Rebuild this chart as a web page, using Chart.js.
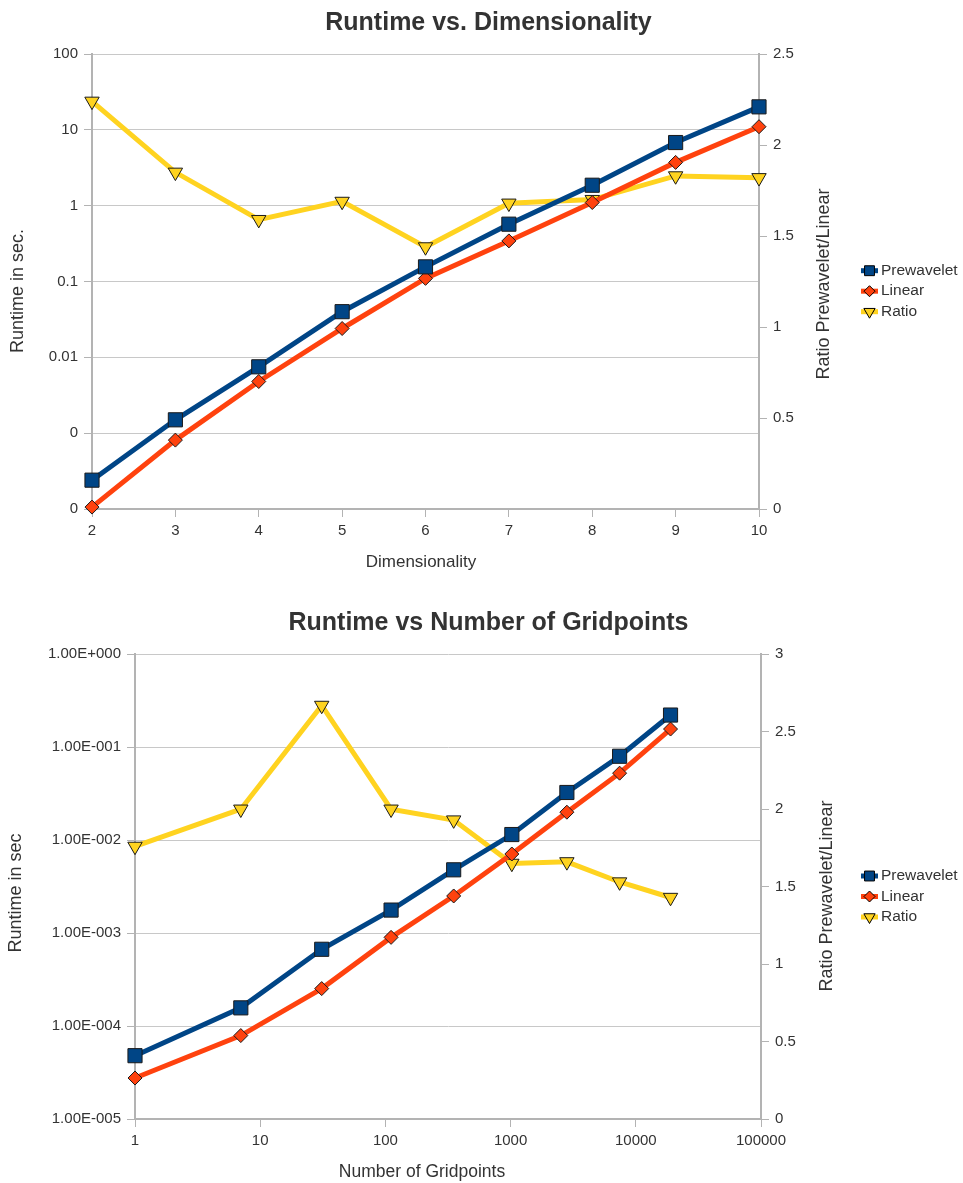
<!DOCTYPE html>
<html>
<head>
<meta charset="utf-8">
<script src="https://cdn.jsdelivr.net/npm/chart.js@4.4.0/dist/chart.umd.min.js"></script>
<style>
  body { margin: 0; background: #fff; }
  canvas { display: block; }
</style>
</head>
<body>
<canvas id="dimChart" width="963" height="590"></canvas>
<canvas id="gridChart" width="963" height="593"></canvas>
<script>
// Runtime vs. Dimensionality
const dims = [2, 3, 4, 5, 6, 7, 8, 9, 10];
const dimPrewavelet = [2.4e-4, 1.5e-3, 7.5e-3, 0.040, 0.156, 0.57, 1.86, 6.8, 20.1];
const dimLinear = [1.06e-4, 8.1e-4, 4.8e-3, 0.024, 0.110, 0.343, 1.10, 3.72, 11.0];
const dimRatio = [2.24, 1.85, 1.59, 1.69, 1.44, 1.68, 1.70, 1.83, 1.82];
const dimLogTicks = [1e-4, 1e-3, 1e-2, 0.1, 1, 10, 100];
const dimLogLabels = ["0", "0", "0.01", "0.1", "1", "10", "100"];

// Runtime vs Number of Gridpoints
const gridpoints = [1, 7, 31, 111, 351, 1023, 2815, 7423, 18943];
const gridPrewavelet = [4.8e-5, 1.57e-4, 6.7e-4, 1.77e-3, 4.8e-3, 0.0115, 0.0326, 0.080, 0.222];
const gridLinear = [2.76e-5, 7.9e-5, 2.53e-4, 9.0e-4, 2.51e-3, 7.1e-3, 0.020, 0.0526, 0.157];
const gridRatio = [1.76, 2.0, 2.67, 2.0, 1.93, 1.65, 1.66, 1.53, 1.43];
const gridLogTicks = [1e-5, 1e-4, 1e-3, 1e-2, 1e-1, 1];
const gridLogLabels = ["1.00E-005", "1.00E-004", "1.00E-003", "1.00E-002", "1.00E-001", "1.00E+000"];
const gridXTicks = [1, 10, 100, 1000, 10000, 100000];
const gridXLabels = ["1", "10", "100", "1000", "10000", "100000"];

const FONT = '"Liberation Sans", Arial, sans-serif';
const TEXT = '#333333';
const GRID = '#c8c8c8';
const AXIS = '#b3b3b3';

// axis titles (the right one reads bottom-up too) and a legend with line + marker
const extras = {
  id: 'extras',
  afterDraw(chart, args, opts) {
    const ctx = chart.ctx;
    opts.titles.forEach(t => {
      ctx.save();
      ctx.fillStyle = TEXT;
      ctx.font = t.size + 'px ' + FONT;
      ctx.textAlign = 'center';
      ctx.textBaseline = 'middle';
      ctx.translate(t.x, t.y);
      if (t.vertical) ctx.rotate(-Math.PI / 2);
      ctx.fillText(t.text, 0, 0);
      ctx.restore();
    });

    chart.data.datasets.forEach((ds, i) => {
      const y = opts.legendY + i * opts.legendGap;
      ctx.save();
      ctx.strokeStyle = ds.borderColor;
      ctx.lineWidth = 5;
      ctx.beginPath();
      ctx.moveTo(861, y);
      ctx.lineTo(878, y);
      ctx.stroke();
      ctx.fillStyle = ds.backgroundColor;
      ctx.strokeStyle = '#000';
      ctx.lineWidth = 1;
      Chart.helpers.drawPoint(ctx, {
        pointStyle: ds.pointStyle,
        rotation: ds.pointRotation || 0,
        radius: ds.legendRadius,
        borderWidth: 1
      }, 869.5, y);
      ctx.fillStyle = TEXT;
      ctx.font = '15.5px ' + FONT;
      ctx.textAlign = 'left';
      ctx.textBaseline = 'middle';
      ctx.fillText(ds.label, 881, y);
      ctx.restore();
    });
  }
};

function series(label, xs, ys, axis, color, style, radius, legendRadius, rotation) {
  return {
    label: label,
    data: xs.map((x, i) => ({ x: x, y: ys[i] })),
    yAxisID: axis,
    borderColor: color,
    backgroundColor: color,
    borderWidth: 5,
    pointStyle: style,
    pointRotation: rotation || 0,
    pointRadius: radius,
    pointHoverRadius: radius,
    pointBackgroundColor: color,
    pointBorderColor: '#1a1a1a',
    pointBorderWidth: 1,
    legendRadius: legendRadius,
    tension: 0,
    clip: false
  };
}

function makeChart(id, c) {
  return new Chart(document.getElementById(id), {
    type: 'line',
    data: {
      datasets: [
        series('Prewavelet', c.xs, c.pre, 'y', '#004586', 'rect', 10, 7),
        series('Linear', c.xs, c.lin, 'y', '#ff420e', 'rectRot', 7, 5.5),
        series('Ratio', c.xs, c.ratio, 'y2', '#ffd320', 'triangle', 8.3, 6.5, 180)
      ]
    },
    plugins: [extras],
    options: {
      responsive: false,
      animation: false,
      layout: { padding: { left: 14, right: 0, top: 0, bottom: 0 } },
      plugins: {
        legend: { display: false },
        tooltip: { enabled: false },
        title: {
          display: true,
          text: c.title,
          color: TEXT,
          font: { family: FONT, size: 25, weight: 'bold' },
          padding: c.titlePadding
        },
        extras: { titles: c.axisTitles, legendY: c.legendY, legendGap: 20.5 }
      },
      scales: {
        x: {
          type: c.xType,
          position: 'bottom',
          min: c.xMin,
          max: c.xMax,
          afterBuildTicks: c.xTicks ? (s) => { s.ticks = c.xTicks.map(v => ({ value: v })); } : undefined,
          afterFit: (s) => { s.height = c.xHeight; },
          ticks: {
            stepSize: 1,
            autoSkip: false,
            maxRotation: 0,
            padding: 5,
            color: TEXT,
            font: { family: FONT, size: 15 },
            callback: c.xLabels ? (v, i) => c.xLabels[i] : (v) => String(v)
          },
          grid: { drawOnChartArea: false, tickLength: 8, color: AXIS },
          border: { color: AXIS, width: 2 }
        },
        y: {
          type: 'logarithmic',
          position: 'left',
          min: c.yTicks[0],
          max: c.yTicks[c.yTicks.length - 1],
          afterBuildTicks: (s) => { s.ticks = c.yTicks.map(v => ({ value: v })); },
          afterFit: (s) => { s.width = c.yWidth; },
          ticks: {
            autoSkip: false,
            padding: 6,
            color: TEXT,
            font: { family: FONT, size: 15 },
            callback: (v, i) => c.yLabels[i]
          },
          grid: { color: GRID, tickLength: 8, tickColor: AXIS },
          border: { color: AXIS, width: 2 }
        },
        y2: {
          type: 'linear',
          position: 'right',
          min: 0,
          max: c.ratioMax,
          afterFit: (s) => { s.width = c.y2Width; },
          ticks: {
            stepSize: 0.5,
            padding: 6,
            color: TEXT,
            font: { family: FONT, size: 15 },
            callback: (v) => String(v)
          },
          grid: { drawOnChartArea: false, tickLength: 8, color: AXIS },
          border: { color: AXIS, width: 2 }
        }
      }
    }
  });
}

makeChart('dimChart', {
  title: 'Runtime vs. Dimensionality',
  titlePadding: { top: 8, bottom: 16 },
  xs: dims, pre: dimPrewavelet, lin: dimLinear, ratio: dimRatio,
  xType: 'linear', xMin: 2, xMax: 10, xHeight: 81,
  yTicks: dimLogTicks, yLabels: dimLogLabels, yWidth: 78,
  ratioMax: 2.5, y2Width: 204, legendY: 270.7,
  axisTitles: [
    { text: 'Dimensionality', x: 421, y: 562.5, size: 17 },
    { text: 'Runtime in sec.', x: 18.5, y: 291, size: 18, vertical: true },
    { text: 'Ratio Prewavelet/Linear', x: 824.5, y: 284, size: 18, vertical: true }
  ]
});

makeChart('gridChart', {
  title: 'Runtime vs Number of Gridpoints',
  titlePadding: { top: 18, bottom: 16.3 },
  xs: gridpoints, pre: gridPrewavelet, lin: gridLinear, ratio: gridRatio,
  xType: 'logarithmic', xMin: 1, xMax: 100000, xTicks: gridXTicks, xLabels: gridXLabels, xHeight: 64,
  yTicks: gridLogTicks, yLabels: gridLogLabels, yWidth: 121,
  ratioMax: 3, y2Width: 202, legendY: 286,
  axisTitles: [
    { text: 'Number of Gridpoints', x: 422, y: 582, size: 17.5 },
    { text: 'Runtime in sec', x: 16.5, y: 303, size: 18, vertical: true },
    { text: 'Ratio Prewavelet/Linear', x: 827, y: 306, size: 18, vertical: true }
  ]
});
</script>
</body>
</html>
